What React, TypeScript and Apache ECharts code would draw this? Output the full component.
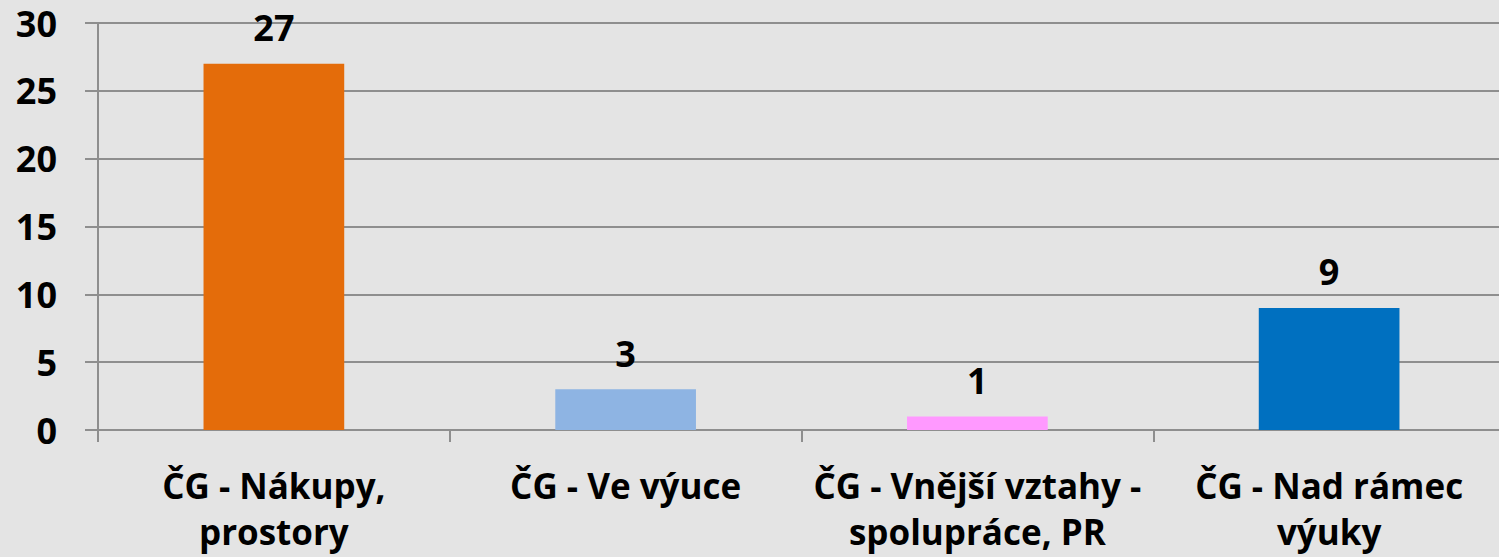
import React, { useEffect, useRef } from "react";
import * as echarts from "echarts";

const categories = [
  "ČG - Nákupy,\nprostory",
  "ČG - Ve výuce",
  "ČG - Vnější vztahy -\nspolupráce, PR",
  "ČG - Nad rámec\nvýuky",
];
const values = [27, 3, 1, 9];
const barColors = ["#E46C0A", "#8EB4E3", "#FF99FF", "#0070C0"];
const yMin = 0;
const yMax = 30;
const yInterval = 5;

const FONT = "Open Sans";
const GRID_COLOR = "#8E8E8E";

export default function App() {
  const ref = useRef<HTMLDivElement>(null);
  useEffect(() => {
    if (!ref.current) return;
    const chart = echarts.init(ref.current, null, { renderer: "svg" });
    chart.setOption({
      animation: false,
      backgroundColor: "#E4E4E4",
      grid: { left: 98, right: 1, top: 23, bottom: 127, containLabel: false },
      xAxis: {
        type: "category",
        data: categories,
        boundaryGap: true,
        axisLine: { show: true, lineStyle: { color: GRID_COLOR, width: 2 } },
        axisTick: { show: true, length: 12, lineStyle: { color: GRID_COLOR, width: 2 } },
        axisLabel: {
          interval: 0,
          margin: 32,
          color: "#000",
          fontFamily: FONT,
          fontWeight: "bold",
          fontSize: 35,
          lineHeight: 46,
        },
      },
      yAxis: {
        type: "value",
        min: yMin,
        max: yMax,
        interval: yInterval,
        axisLine: { show: true, lineStyle: { color: GRID_COLOR, width: 2 } },
        axisTick: { show: true, length: 13, lineStyle: { color: GRID_COLOR, width: 2 } },
        splitLine: { show: true, lineStyle: { color: GRID_COLOR, width: 2 } },
        axisLabel: {
          margin: 41,
          color: "#000",
          fontFamily: FONT,
          fontWeight: "bold",
          fontSize: 36,
        },
      },
      series: [
        {
          type: "bar",
          barWidth: "40%",
          data: values.map((v, i) => ({ value: v, itemStyle: { color: barColors[i] } })),
          label: {
            show: true,
            position: "top",
            distance: 18,
            color: "#000",
            fontFamily: FONT,
            fontWeight: "bold",
            fontSize: 36,
          },
        },
      ],
    });
    return () => chart.dispose();
  }, []);
  return (
    <div
      style={{ position: "fixed", left: 0, top: 0, width: 1499, height: 557, overflow: "hidden" }}
    >
      <div ref={ref} style={{ width: 1506, height: 557 }} />
    </div>
  );
}
